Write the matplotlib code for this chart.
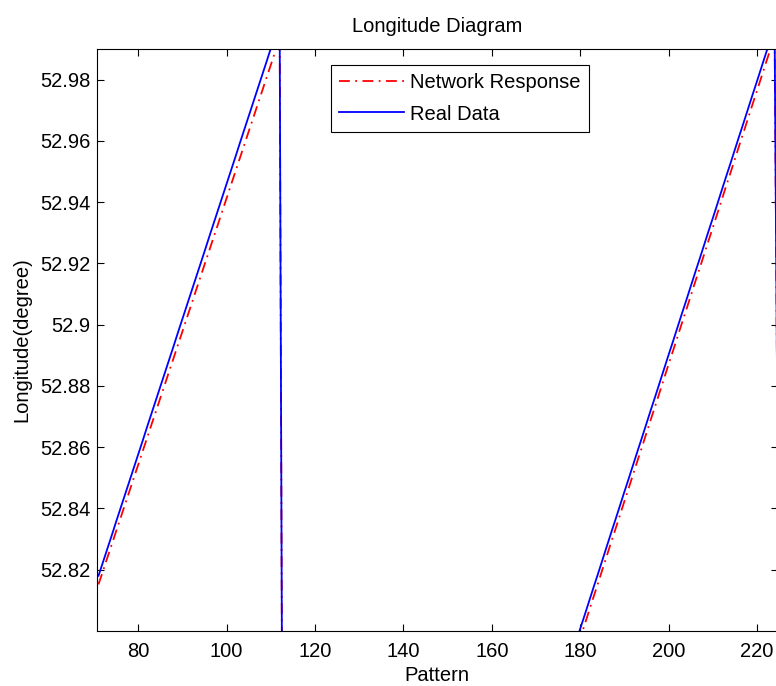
import matplotlib
matplotlib.use("Agg")
import matplotlib.pyplot as plt
from matplotlib.ticker import FixedLocator, FixedFormatter

plt.rcParams['font.family'] = ['Liberation Sans', 'DejaVu Sans']

# pattern index (off-range stretch between the two ramps is skipped)
pattern = list(range(71, 114)) + list(range(179, 226))

real_data = [
    52.8180, 52.8224, 52.8268, 52.8312, 52.8357, 52.8401, 52.8445, 52.8489,
    52.8533, 52.8577, 52.8621, 52.8666, 52.8710, 52.8754, 52.8798, 52.8842,
    52.8886, 52.8930, 52.8975, 52.9019, 52.9063, 52.9107, 52.9151, 52.9195,
    52.9239, 52.9284, 52.9328, 52.9372, 52.9416, 52.9460, 52.9504, 52.9548,
    52.9593, 52.9637, 52.9681, 52.9725, 52.9769, 52.9813, 52.9857, 52.9902,
    52.9946, 52.9990, 52.6000,
    52.7962, 52.8007, 52.8051, 52.8096, 52.8141, 52.8185, 52.8230, 52.8275,
    52.8320, 52.8364, 52.8409, 52.8454, 52.8498, 52.8543, 52.8588, 52.8632,
    52.8677, 52.8722, 52.8766, 52.8811, 52.8856, 52.8901, 52.8945, 52.8990,
    52.9035, 52.9079, 52.9124, 52.9169, 52.9213, 52.9258, 52.9303, 52.9347,
    52.9392, 52.9437, 52.9482, 52.9526, 52.9571, 52.9616, 52.9660, 52.9705,
    52.9750, 52.9794, 52.9839, 52.9884, 52.9928, 52.9973, 52.7900,
]

network_response = [
    52.8152, 52.8195, 52.8239, 52.8282, 52.8326, 52.8369, 52.8413, 52.8456,
    52.8500, 52.8543, 52.8587, 52.8630, 52.8674, 52.8717, 52.8761, 52.8804,
    52.8848, 52.8891, 52.8935, 52.8978, 52.9022, 52.9065, 52.9109, 52.9152,
    52.9196, 52.9239, 52.9283, 52.9326, 52.9370, 52.9413, 52.9457, 52.9500,
    52.9544, 52.9587, 52.9631, 52.9674, 52.9718, 52.9761, 52.9805, 52.9848,
    52.9892, 52.9990, 52.6000,
    52.7931, 52.7976, 52.8020, 52.8065, 52.8110, 52.8154, 52.8199, 52.8244,
    52.8289, 52.8333, 52.8378, 52.8423, 52.8467, 52.8512, 52.8557, 52.8601,
    52.8646, 52.8691, 52.8735, 52.8780, 52.8825, 52.8870, 52.8914, 52.8959,
    52.9004, 52.9048, 52.9093, 52.9138, 52.9182, 52.9227, 52.9272, 52.9316,
    52.9361, 52.9406, 52.9451, 52.9495, 52.9540, 52.9585, 52.9629, 52.9674,
    52.9719, 52.9763, 52.9808, 52.9853, 52.9897, 52.9973, 52.7900,
]

x_ticks = [80, 100, 120, 140, 160, 180, 200, 220]
y_ticks = [52.82, 52.84, 52.86, 52.88, 52.90, 52.92, 52.94, 52.96, 52.98]
y_tick_labels = ['52.82', '52.84', '52.86', '52.88', '52.9',
                 '52.92', '52.94', '52.96', '52.98']

FS = 14.5

fig = plt.figure(figsize=(7.76, 6.86), dpi=100)
fig.patch.set_facecolor('white')
ax = fig.add_axes([96.7 / 776, 1 - 631 / 686, (777.5 - 96.7) / 776, (631 - 49) / 686])

ax.plot(pattern, network_response, color='#ff0000', linewidth=1.3,
        dashes=(6, 3, 1, 3), label='Network Response')
ax.plot(pattern, real_data, color='#0000ff', linewidth=1.3, label='Real Data')

ax.set_xlim(70.6, 224.66)
ax.set_ylim(52.80, 52.990)

ax.xaxis.set_major_locator(FixedLocator(x_ticks))
ax.yaxis.set_major_locator(FixedLocator(y_ticks))
ax.yaxis.set_major_formatter(FixedFormatter(y_tick_labels))

ax.tick_params(direction='in', length=5, width=0.8, colors='black',
               top=True, right=True, labelsize=FS)
ax.tick_params(axis='x', pad=8)
ax.tick_params(axis='y', pad=4.5)
for sp in ax.spines.values():
    sp.set_linewidth(0.8)
    sp.set_color('black')

ax.set_title('Longitude Diagram', fontsize=FS, pad=12)
ax.set_xlabel('Pattern', fontsize=FS, labelpad=3.2)
ax.set_ylabel('Longitude(degree)', fontsize=FS, labelpad=6)

leg = ax.legend(loc='upper left', bbox_to_anchor=(0.344, 0.9725),
                borderaxespad=0, fontsize=FS, fancybox=False, shadow=False,
                framealpha=1, edgecolor='black', handlelength=3.2,
                handletextpad=0.3, labelspacing=0.6, borderpad=0.42)
leg.get_frame().set_linewidth(0.8)

fig.savefig('out.png', dpi=100, facecolor='white')
